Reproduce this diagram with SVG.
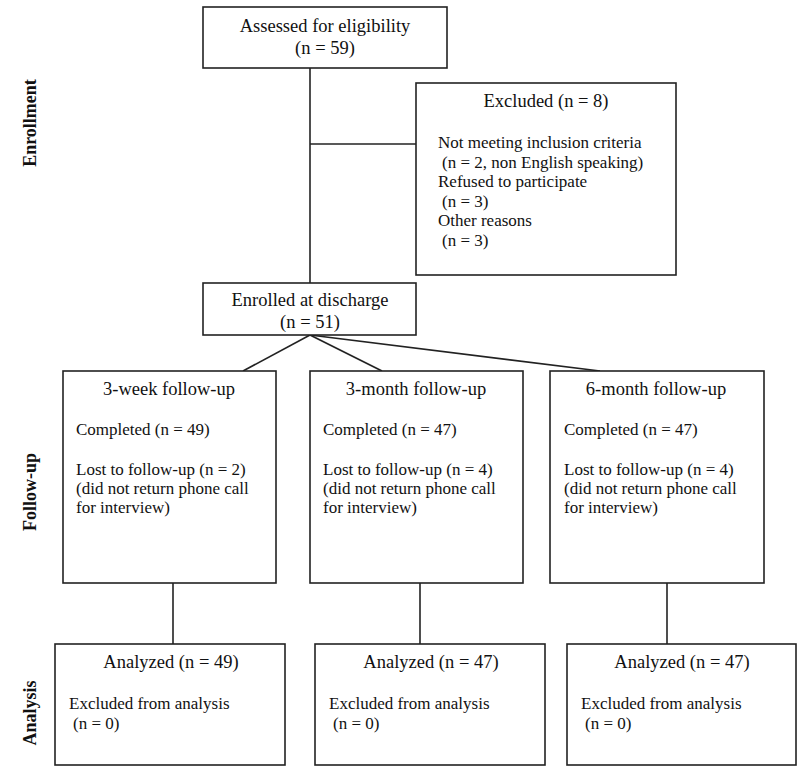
<svg xmlns="http://www.w3.org/2000/svg" width="800" height="774" viewBox="0 0 800 774">
<style>
rect{fill:#fff;stroke:#222;stroke-width:1.6}
.c line{stroke:#222;stroke-width:1.6}
text{font-family:"Liberation Serif","Times New Roman",serif;fill:#111}
.h{font-size:18.5px;text-anchor:middle}
.b{font-size:17px}
.s{font-size:18px;font-weight:bold;text-anchor:middle}
</style>
<rect x="0" y="0" width="800" height="774" style="stroke:none"/>
<g class="c">
<line x1="310" y1="68" x2="310" y2="283"/>
<line x1="310" y1="144" x2="416" y2="144"/>
<line x1="310" y1="335" x2="243" y2="371"/>
<line x1="310" y1="335" x2="382" y2="371"/>
<line x1="310" y1="335" x2="600" y2="371"/>
<line x1="173" y1="583" x2="173" y2="644"/>
<line x1="420" y1="583" x2="420" y2="644"/>
<line x1="667" y1="583" x2="667" y2="644"/>
</g>
<g id="assessed"><rect x="203" y="7" width="244" height="61"/>
<text class="h" x="325" y="32">Assessed for eligibility</text>
<text class="h" x="325" y="54">(n = 59)</text></g>
<g id="excluded"><rect x="416" y="83" width="260" height="192"/>
<text class="h" x="546" y="107">Excluded (n = 8)</text>
<text class="b" x="438" y="148">Not meeting inclusion criteria</text>
<text class="b" x="442" y="168">(n = 2, non English speaking)</text>
<text class="b" x="438" y="187">Refused to participate</text>
<text class="b" x="442" y="207">(n = 3)</text>
<text class="b" x="438" y="226">Other reasons</text>
<text class="b" x="442" y="246">(n = 3)</text></g>
<g id="enrolled"><rect x="203" y="283" width="213" height="52"/>
<text class="h" x="310" y="306">Enrolled at discharge</text>
<text class="h" x="310" y="328">(n = 51)</text></g>
<g id="fu1"><rect x="63" y="371" width="213" height="212"/>
<text class="h" x="169" y="395">3-week follow-up</text>
<text class="b" x="76" y="435">Completed (n = 49)</text>
<text class="b" x="76" y="475">Lost to follow-up (n = 2)</text>
<text class="b" x="76" y="494">(did not return phone call</text>
<text class="b" x="76" y="513">for interview)</text></g>
<g id="fu2"><rect x="310" y="371" width="213" height="212"/>
<text class="h" x="416" y="395">3-month follow-up</text>
<text class="b" x="323" y="435">Completed (n = 47)</text>
<text class="b" x="323" y="475">Lost to follow-up (n = 4)</text>
<text class="b" x="323" y="494">(did not return phone call</text>
<text class="b" x="323" y="513">for interview)</text></g>
<g id="fu3"><rect x="550" y="371" width="214" height="212"/>
<text class="h" x="656" y="395">6-month follow-up</text>
<text class="b" x="564" y="435">Completed (n = 47)</text>
<text class="b" x="564" y="475">Lost to follow-up (n = 4)</text>
<text class="b" x="564" y="494">(did not return phone call</text>
<text class="b" x="564" y="513">for interview)</text></g>
<g id="an1"><rect x="55" y="644" width="230" height="121"/>
<text class="h" x="171" y="668">Analyzed (n = 49)</text>
<text class="b" x="69" y="709">Excluded from analysis</text>
<text class="b" x="73" y="729">(n = 0)</text></g>
<g id="an2"><rect x="315" y="644" width="230" height="121"/>
<text class="h" x="431" y="668">Analyzed (n = 47)</text>
<text class="b" x="329" y="709">Excluded from analysis</text>
<text class="b" x="333" y="729">(n = 0)</text></g>
<g id="an3"><rect x="567" y="644" width="229" height="121"/>
<text class="h" x="682" y="668">Analyzed (n = 47)</text>
<text class="b" x="581" y="709">Excluded from analysis</text>
<text class="b" x="585" y="729">(n = 0)</text></g>
<g id="labels">
<text class="s" transform="translate(36,123) rotate(-90)">Enrollment</text>
<text class="s" transform="translate(36,492) rotate(-90)">Follow-up</text>
<text class="s" transform="translate(36,713) rotate(-90)">Analysis</text>
</g>
</svg>
